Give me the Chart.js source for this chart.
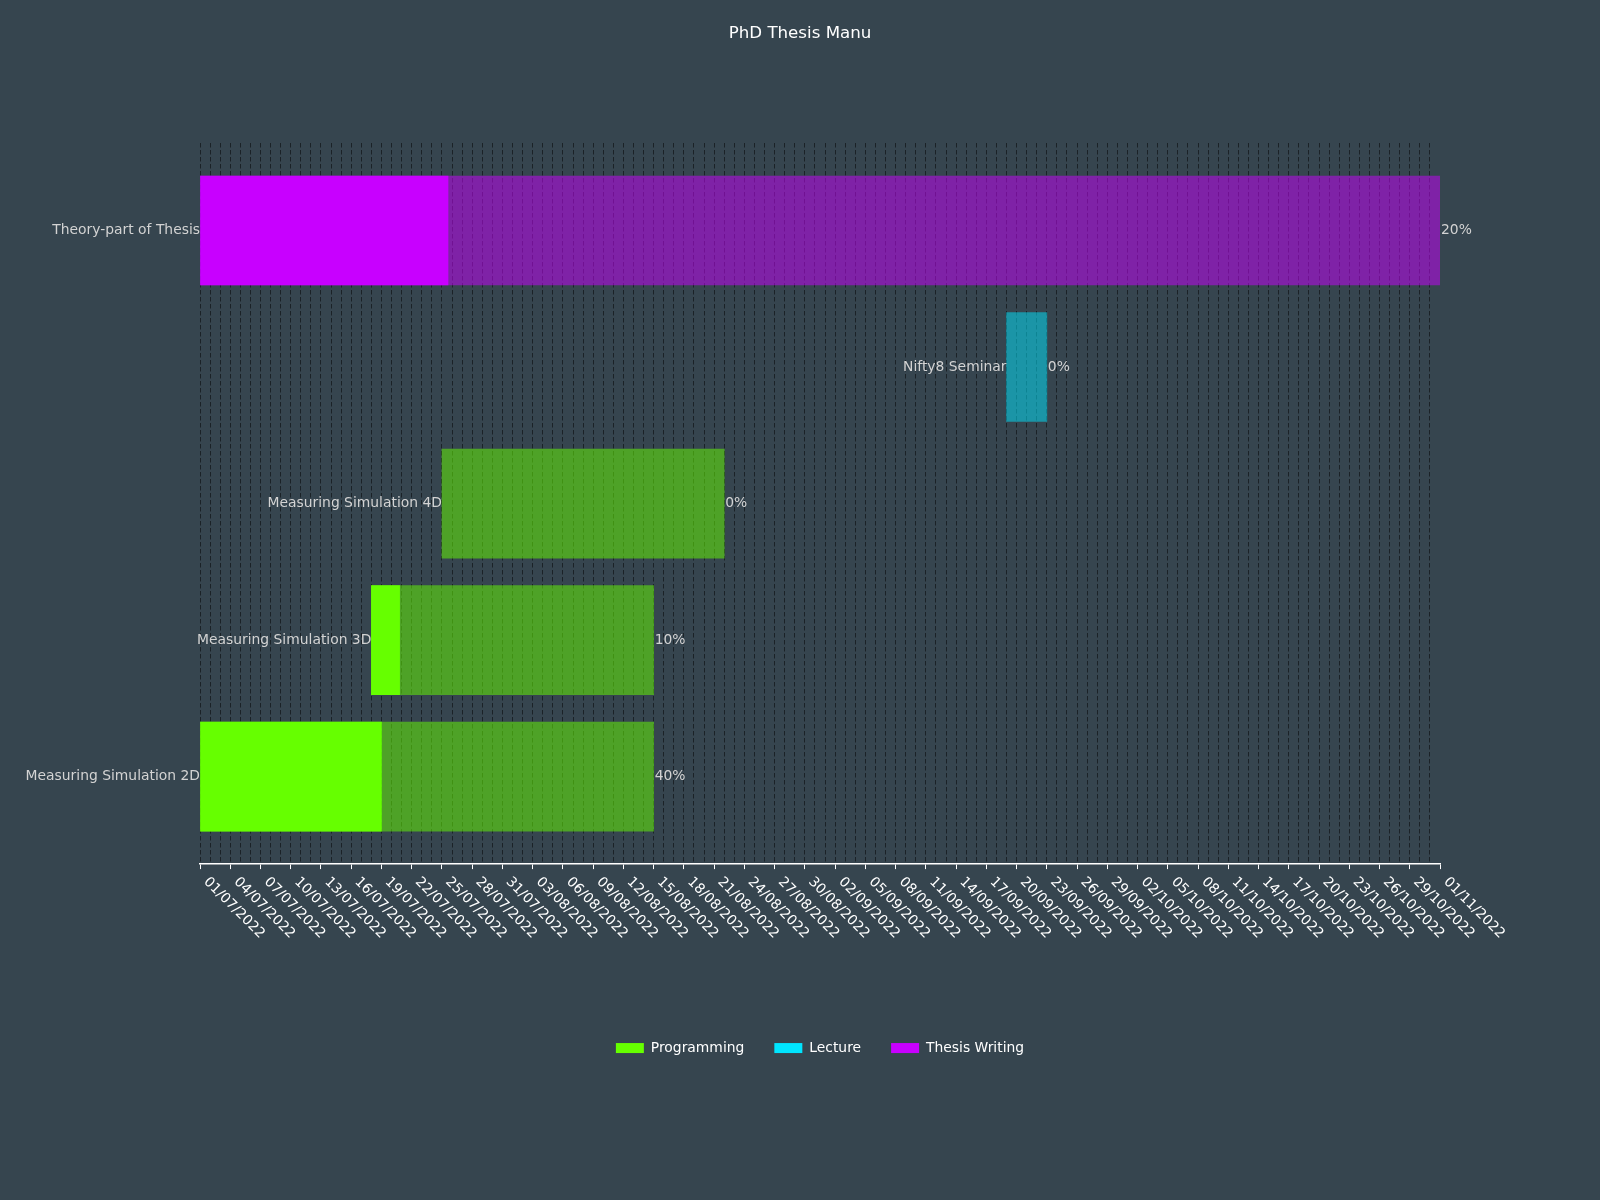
<!DOCTYPE html>
<html>
<head>
<meta charset="utf-8">
<script src="https://cdn.jsdelivr.net/npm/chart.js@4.4.0/dist/chart.umd.min.js"></script>
<style>
  html, body { margin: 0; padding: 0; background: #36454F; }
  #wrap { width: 1600px; height: 1200px; }
</style>
</head>
<body>
<div id="wrap"><canvas id="c" width="1600" height="1200"></canvas></div>
<script>
// ---- data ----
const tasks = ['Theory-part of Thesis', 'Nifty8 Seminar', 'Measuring Simulation 4D', 'Measuring Simulation 3D', 'Measuring Simulation 2D'];
const startDates = ['2022-07-01', '2022-09-19', '2022-07-25', '2022-07-18', '2022-07-01'];
const endDates   = ['2022-11-01', '2022-09-23', '2022-08-22', '2022-08-15', '2022-08-15'];
const completion = [0.20, 0.00, 0.00, 0.10, 0.40];
const departments = ['Thesis Writing', 'Lecture', 'Programming', 'Programming', 'Programming'];
const legendNames = ['Programming', 'Lecture', 'Thesis Writing'];
const legendColors = ['#66ff00', '#00e5ff', '#c800ff'];
const axisStartDate = '2022-07-01';
const axisEndDate = '2022-11-01';
const lastGridDate = '2022-10-31';
const tickStepDays = 3;
const titleText = 'PhD Thesis Manu';

// ---- helpers ----
function parseDate(s) { const [y, m, d] = s.split('-').map(Number); return Date.UTC(y, m - 1, d); }
const origin = parseDate(axisStartDate);
function dayOf(s) { return Math.round((parseDate(s) - origin) / 86400000); }
function fmtDay(v) {
  const d = new Date(origin + v * 86400000);
  const dd = String(d.getUTCDate()).padStart(2, '0');
  const mm = String(d.getUTCMonth() + 1).padStart(2, '0');
  return dd + '/' + mm + '/' + d.getUTCFullYear();
}
function withAlpha(hex, a) {
  const n = parseInt(hex.slice(1), 16);
  return `rgba(${(n >> 16) & 255},${(n >> 8) & 255},${n & 255},${a})`;
}
const startDays = startDates.map(dayOf);
const endDays = endDates.map(dayOf);
const colorOf = dep => legendColors[legendNames.indexOf(dep)];
const FONT = 'DejaVu Sans';
const SMALL = 13.89;

const labelPlugin = {
  id: 'ganttLabels',
  afterDatasetsDraw(chart) {
    const { ctx, scales: { x, y } } = chart;
    ctx.save();
    ctx.font = `${SMALL}px "${FONT}"`;
    ctx.fillStyle = '#d3d3d3';
    ctx.textBaseline = 'middle';
    tasks.forEach((t, i) => {
      const yc = y.getPixelForValue(i);
      ctx.textAlign = 'right';
      ctx.fillText(t, x.getPixelForValue(startDays[i]), yc);
      ctx.textAlign = 'left';
      ctx.fillText(Math.round(completion[i] * 100) + '%', x.getPixelForValue(endDays[i]) + 1, yc);
    });
    ctx.fillStyle = '#ffffff';
    x.ticks.forEach(tk => {
      if (tk.value % tickStepDays !== 0) return;
      const px = x.getPixelForValue(tk.value);
      ctx.save();
      ctx.translate(px + 5.7, x.top + 15.5);
      ctx.rotate(Math.PI / 4);
      ctx.textAlign = 'left';
      ctx.textBaseline = 'middle';
      ctx.fillText(fmtDay(tk.value), 0, 0);
      ctx.restore();
    });
    ctx.restore();
  }
};

Chart.defaults.font.family = FONT;

const doneIdx = tasks.map((_, i) => i).filter(i => completion[i] > 0);

new Chart(document.getElementById('c'), {
  type: 'bar',
  data: {
    datasets: [
      {
        label: 'done',
        order: 0,
        data: doneIdx.map(i => ({ x: [startDays[i], startDays[i] + completion[i] * (endDays[i] - startDays[i])], y: i })),
        backgroundColor: doneIdx.map(i => colorOf(departments[i])),
        borderWidth: 0,
        borderSkipped: false,
        barThickness: 109,
        grouped: false
      },
      {
        label: 'full',
        order: 1,
        data: tasks.map((_, i) => ({ x: [startDays[i], endDays[i]], y: i })),
        backgroundColor: departments.map(d => withAlpha(colorOf(d), 0.5)),
        borderWidth: 0,
        borderSkipped: false,
        barThickness: 109,
        grouped: false
      }
    ]
  },
  options: {
    indexAxis: 'y',
    responsive: false,
    devicePixelRatio: 1,
    animation: false,
    layout: { padding: { left: 160, right: 160, top: 0, bottom: 135 } },
    scales: {
      x: {
        type: 'linear',
        position: 'bottom',
        offset: false,
        min: dayOf(axisStartDate),
        max: dayOf(axisEndDate),
        ticks: { display: false, stepSize: 1, autoSkip: false },
        grid: {
          offset: false,
          lineWidth: 1,
          color: c => (c.tick && c.tick.value <= dayOf(lastGridDate)) ? 'rgba(0,0,0,0.5)' : 'rgba(0,0,0,0)',
          tickColor: c => (c.tick && c.tick.value % tickStepDays === 0) ? '#ffffff' : 'rgba(0,0,0,0)',
          tickLength: 5,
          tickWidth: 1,
          drawTicks: true
        },
        border: { display: true, color: '#ffffff', width: 1.5, dash: [4.5, 2.5] },
        afterFit(scale) { scale.height = 147; }
      },
      y: {
        type: 'linear',
        position: 'left',
        offset: false,
        reverse: true,
        min: -0.641,
        max: 4.641,
        ticks: { display: false },
        grid: { display: false, offset: false },
        border: { display: false },
        afterFit(scale) { scale.width = 40; }
      }
    },
    plugins: {
      title: {
        display: true,
        text: titleText,
        color: '#ffffff',
        font: { family: FONT, size: 16.67, weight: 'normal' },
        padding: { top: 23.6, bottom: 99.4 }
      },
      legend: {
        display: true,
        position: 'bottom',
        fullSize: false,
        labels: {
          boxWidth: 28,
          boxHeight: 10,
          padding: 30,
          color: '#ffffff',
          font: { family: FONT, size: SMALL },
          generateLabels: () => legendNames.map((n, i) => ({
            text: n, fillStyle: legendColors[i], strokeStyle: legendColors[i],
            lineWidth: 0, hidden: false, datasetIndex: 0, fontColor: '#ffffff'
          }))
        }
      },
      tooltip: { enabled: false }
    }
  },
  plugins: [labelPlugin]
});
</script>
</body>
</html>
